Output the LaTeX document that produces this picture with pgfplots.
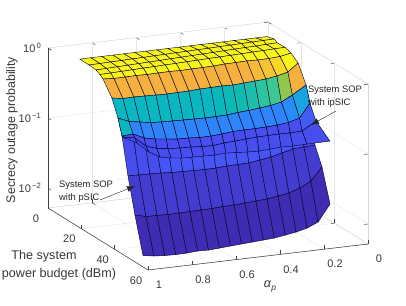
\documentclass[border=0pt]{standalone}
\usepackage{fontspec}
\setmainfont{Liberation Sans}
\usepackage{pgfplots}
\usepackage{pgfplotstable}
\usetikzlibrary{arrows.meta}
\pgfplotsset{compat=1.18}
\definecolor{axgray}{gray}{0.25}
\definecolor{txtgray}{gray}{0.22}
\pgfplotstableread{
a b lz c
.855 0 -.212 1
.805 0 -.211 1
.755 0 -.211 1
.705 0 -.211 1
.655 0 -.211 1
.605 0 -.210 1
.555 0 -.210 1
.505 0 -.210 1
.455 0 -.209 1
.405 0 -.209 1
.355 0 -.209 1
.305 0 -.208 1
.255 0 -.208 1
.205 0 -.208 1
.155 0 -.207 1
.105 0 -.207 1
.055 0 -.207 1
.005 0 -.206 1
.844 4 -.242 1
.794 4 -.239 1
.745 4 -.235 1
.695 4 -.232 1
.646 4 -.228 1
.596 4 -.225 1
.547 4 -.221 1
.497 4 -.218 1
.448 4 -.214 1
.398 4 -.211 1
.348 4 -.207 1
.299 4 -.204 1
.249 4 -.200 1
.200 4 -.197 1
.150 4 -.193 1
.101 4 -.190 1
.051 4 -.186 1
.002 4 -.183 1
.842 8 -.255 1
.794 8 -.250 1
.745 8 -.245 1
.697 8 -.240 1
.648 8 -.235 1
.600 8 -.231 1
.552 8 -.226 1
.503 8 -.221 1
.455 8 -.216 1
.406 8 -.211 1
.358 8 -.206 1
.310 8 -.201 1
.261 8 -.196 1
.213 8 -.191 1
.164 8 -.186 1
.116 8 -.182 1
.068 8 -.177 1
.019 8 -.172 1
.855 12 -.256 1
.805 12 -.252 1
.756 12 -.247 1
.706 12 -.243 1
.657 12 -.238 1
.607 12 -.234 1
.558 12 -.229 1
.508 12 -.225 1
.459 12 -.220 1
.409 12 -.216 1
.359 12 -.211 1
.310 12 -.207 1
.260 12 -.202 1
.211 12 -.198 1
.161 12 -.193 1
.112 12 -.189 1
.062 12 -.184 1
.013 12 -.180 1
.871 16 -.255 .86
.821 16 -.266 .86
.770 16 -.264 .86
.720 16 -.261 .86
.670 16 -.265 .86
.620 16 -.262 .86
.569 16 -.260 .86
.519 16 -.264 .86
.469 16 -.261 .86
.418 16 -.259 .86
.368 16 -.256 .86
.318 16 -.246 .86
.267 16 -.243 .86
.217 16 -.240 .88
.167 16 -.245 .90
.117 16 -.242 .94
.066 16 -.232 1
.016 16 -.201 1
.876 22 -.436 .47
.826 22 -.462 .47
.776 22 -.459 .47
.726 22 -.463 .47
.676 22 -.468 .47
.626 22 -.472 .47
.576 22 -.469 .47
.526 22 -.466 .47
.476 22 -.456 .47
.426 22 -.453 .48
.376 22 -.450 .49
.326 22 -.455 .50
.276 22 -.445 .52
.226 22 -.435 .55
.176 22 -.425 .58
.126 22 -.400 .68
.076 22 -.362 .86
.030 22 -.250 .86
.894 28 -.627 .47
.844 28 -.695 .28
.795 28 -.721 .28
.745 28 -.746 .28
.696 28 -.757 .28
.646 28 -.761 .28
.597 28 -.766 .28
.547 28 -.770 .28
.498 28 -.774 .28
.448 28 -.771 .28
.398 28 -.768 .28
.349 28 -.750 .28
.299 28 -.740 .28
.250 28 -.723 .28
.200 28 -.706 .28
.151 28 -.674 .30
.101 28 -.592 .38
.039 28 -.473 .38
.921 34 -.785 .13
.871 34 -.775 .13
.820 34 -.851 .13
.770 34 -.884 .15
.719 34 -.903 .15
.669 34 -.922 .15
.618 34 -.926 .15
.568 34 -.938 .15
.517 34 -.935 .15
.467 34 -.925 .15
.417 34 -.908 .15
.366 34 -.905 .15
.316 34 -.903 .15
.265 34 -.900 .15
.215 34 -.890 .15
.164 34 -.873 .15
.114 34 -.828 .13
.067 34 -.631 .13
.970 44 -1.184 .07
.920 44 -1.195 .07
.870 44 -1.199 .07
.820 44 -1.204 .07
.770 44 -1.215 .07
.720 44 -1.219 .07
.670 44 -1.224 .07
.620 44 -1.228 .07
.570 44 -1.225 .07
.520 44 -1.215 .07
.470 44 -1.212 .07
.420 44 -1.209 .07
.370 44 -1.185 .07
.320 44 -1.161 .07
.270 44 -1.122 .07
.220 44 -1.084 .07
.170 44 -1.074 .07
.120 44 -1.064 .07
.991 51 -1.637 .02
.941 51 -1.677 .02
.891 51 -1.681 .02
.841 51 -1.685 .02
.791 51 -1.683 .02
.741 51 -1.680 .02
.691 51 -1.677 .02
.641 51 -1.674 .02
.591 51 -1.664 .02
.541 51 -1.661 .02
.491 51 -1.651 .02
.441 51 -1.641 .02
.391 51 -1.631 .02
.341 51 -1.607 .02
.291 51 -1.583 .02
.241 51 -1.530 .02
.191 51 -1.448 .02
.141 51 -1.267 .02
1.000 57 -2.123 .02
.950 57 -2.149 .02
.901 57 -2.160 .02
.851 57 -2.165 .02
.801 57 -2.162 .02
.751 57 -2.151 .02
.702 57 -2.156 .02
.652 57 -2.146 .02
.602 57 -2.135 .02
.552 57 -2.125 .02
.503 57 -2.115 .02
.453 57 -2.105 .02
.403 57 -2.095 .02
.353 57 -2.071 .02
.304 57 -2.046 .02
.254 57 -2.008 .02
.204 57 -1.940 .02
.150 57 -1.703 .02
}\psic
\pgfplotstableread{
a b lz c
.894 28 -.627 .47
.844 28 -.695 .28
.795 28 -.721 .28
.745 28 -.746 .28
.696 28 -.757 .28
.646 28 -.761 .28
.597 28 -.766 .28
.547 28 -.770 .28
.498 28 -.774 .28
.448 28 -.771 .28
.398 28 -.768 .28
.349 28 -.750 .28
.299 28 -.740 .28
.250 28 -.723 .28
.200 28 -.706 .28
.151 28 -.674 .30
.101 28 -.592 .38
.039 28 -.473 .38
.921 34 -.785 .13
.871 34 -.775 .13
.820 34 -.851 .13
.770 34 -.884 .13
.719 34 -.903 .13
.669 34 -.922 .13
.618 34 -.926 .13
.568 34 -.938 .13
.517 34 -.935 .13
.467 34 -.925 .13
.417 34 -.908 .13
.366 34 -.905 .13
.316 34 -.903 .13
.265 34 -.900 .13
.215 34 -.890 .13
.164 34 -.873 .13
.114 34 -.828 .17
.067 34 -.631 .17
.962 40 -.696 .13
.908 40 -.730 .13
.858 40 -.863 .13
.808 40 -.917 .13
.758 40 -.936 .13
.703 40 -.949 .13
.653 40 -.953 .13
.603 40 -.965 .13
.553 40 -.969 .13
.503 40 -.952 .13
.453 40 -.942 .13
.403 40 -.932 .13
.353 40 -.922 .13
.303 40 -.919 .13
.253 40 -.916 .13
.203 40 -.920 .13
.148 40 -.912 .13
.085 40 -.793 .13
1.000 46 -.606 .13
.944 46 -.699 .13
.889 46 -.848 .13
.839 46 -.938 .13
.789 46 -.971 .13
.739 46 -.990 .13
.689 46 -.994 .13
.639 46 -.998 .13
.589 46 -1.003 .13
.539 46 -.993 .13
.489 46 -1.004 .13
.439 46 -1.015 .13
.389 46 -1.020 .13
.339 46 -1.010 .13
.289 46 -1.000 .13
.235 46 -1.006 .13
.171 46 -1.001 .13
.067 46 -.997 .13
}\ipsic
\begin{document}
\begin{tikzpicture}[x=1pt,y=1pt]
\path[use as bounding box] (0,0) rectangle (406,305);
\begin{axis}[
  at={(268pt,283pt)}, anchor=origin,
  x={(-220pt,-26pt)}, y={(1.6667pt,-1.0333pt)}, z={(0pt,70pt)},
  zmode=log, log basis z=10,
  xmin=0,xmax=1,ymin=0,ymax=60,zmin=0.00518,zmax=1,
  xtick={0,.2,.4,.6,.8,1}, xticklabels={0,0.2,0.4,0.6,0.8,1},
  ytick={0,20,40,60}, yticklabels={0,20,40,60},
  ztick={0.01,0.1,1}, zticklabels={10\textsuperscript{\,−2},10\textsuperscript{\,−1},10\textsuperscript{\,0}},
  xticklabel style={anchor=center,xshift=11pt,yshift=-15pt},
  yticklabel style={anchor=center,xshift=-12pt,yshift=-10.5pt},
  zticklabel style={anchor=east,xshift=-3pt,yshift=0pt},
  tickpos=left,
  grid=both,
  major grid style={black!10,line width=.4pt},
  minor grid style={black!20,densely dotted,line width=.3pt},
  tick align=inside,
  tick style={axgray,line width=.4pt},
  major tick length=4pt, minor tick length=2pt,
  axis line style={black!15,line width=.4pt},
  ticklabel style={font=\fontsize{11}{11}\selectfont,text=txtgray},
  point meta min=0, point meta max=1,
  colormap={sop}{rgb(0pt)=(.2422,.1504,.6603) rgb(143pt)=(.281,.3228,.9579) rgb(286pt)=(.1786,.5289,.9682) rgb(429pt)=(.0689,.6948,.8394) rgb(480pt)=(.03,.72,.73) rgb(571pt)=(.2161,.7843,.5923) rgb(714pt)=(.672,.7793,.2227) rgb(860pt)=(.96,.69,.24) rgb(1000pt)=(.98,.96,.1)},
  clip=false,
]
\addplot3[surf,shader=flat corner,draw=black!85!blue,line width=.4pt,z buffer=none,mesh/cols=18,point meta=explicit]
  table[x=a,y=b,z expr=10^\thisrow{lz},meta=c]{\psic};
\addplot3[surf,shader=flat corner,draw=black!85!blue,line width=.4pt,z buffer=none,mesh/cols=18,point meta=explicit]
  table[x=a,y=b,z expr=10^\thisrow{lz},meta=c]{\ipsic};
\draw[axgray,line width=.5pt] (axis cs:1,0,0.00518) -- (axis cs:1,60,0.00518) -- (axis cs:0,60,0.00518);
\draw[axgray,line width=.5pt] (axis cs:1,0,0.00518) -- (axis cs:1,0,1);
\end{axis}
\node[font=\fontsize{12.4}{12.4}\selectfont,text=txtgray,rotate=90] at (12,175) {Secrecy outage probability};
\node[font=\fontsize{12.6}{12.6}\selectfont,text=txtgray] at (44,49) {The system};
\node[font=\fontsize{12.6}{12.6}\selectfont,text=txtgray] at (59,31) {power budget (dBm)};
\node[font=\fontsize{12.5}{12.5}\selectfont,text=txtgray] at (270,18) {\textit{α}\raisebox{-3pt}{\fontsize{8.5}{8.5}\selectfont\textit{p}}};
\node[font=\fontsize{9.4}{9.4}\selectfont,text=black!85,anchor=west,inner sep=0pt] at (308,215) {System SOP};
\node[font=\fontsize{9.4}{9.4}\selectfont,text=black!85,anchor=west,inner sep=0pt] at (308,202) {with ipSIC};
\node[font=\fontsize{9.4}{9.4}\selectfont,text=black!85,anchor=west,inner sep=0pt] at (59,120) {System SOP};
\node[font=\fontsize{9.4}{9.4}\selectfont,text=black!85,anchor=west,inner sep=0pt] at (59,107) {with pSIC};
\draw[black!85,line width=.4pt,-{Latex[length=8pt,width=6pt]}] (336,194) -- (311,180);
\draw[black!85,line width=.4pt,-{Latex[length=8pt,width=6pt]}] (100,105) -- (135,119);
\end{tikzpicture}
\end{document}
